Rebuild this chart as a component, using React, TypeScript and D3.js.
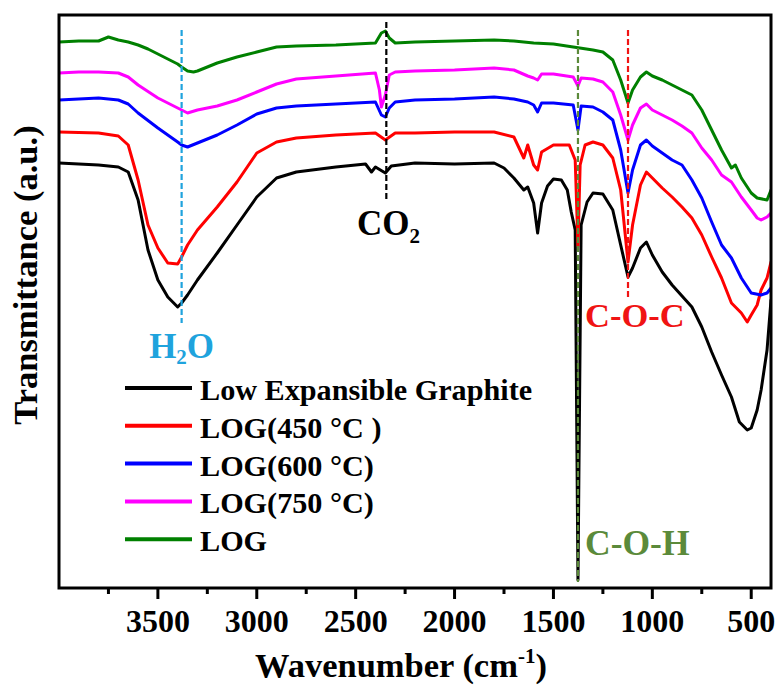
import React from "react";
import * as d3 from "d3";

// ---------- data (wavenumber cm-1, transmittance a.u.) ----------
const SERIES_NAMES = ["Low Expansible Graphite", "LOG(450 °C )", "LOG(600 °C)", "LOG(750 °C)", "LOG"];
const SERIES_COLORS = ["#000000", "#ff0000", "#0000ff", "#ff00ff", "#008000"];

const lowExpansible: [number, number][] = [
  [4000, 42.5], [3900, 42.4], [3800, 42.3], [3700, 42.1], [3650, 41.6], [3600, 38.8], [3550, 33.8],
  [3500, 30.8], [3450, 29.1], [3400, 28.1], [3380, 28.5], [3350, 29.3], [3300, 30.8], [3200, 33.5],
  [3100, 36.3], [3000, 39.1], [2900, 41.0], [2800, 41.6], [2600, 42.1], [2450, 42.4], [2420, 41.6],
  [2400, 42.1], [2350, 41.5], [2320, 42.2], [2200, 42.5], [2000, 42.4], [1800, 42.5], [1750, 42.0],
  [1700, 41.0], [1650, 39.8], [1630, 40.1], [1600, 38.5], [1580, 35.5], [1560, 38.5], [1530, 40.2],
  [1500, 40.9], [1460, 40.8], [1430, 39.8], [1410, 37.6], [1390, 35.8], [1376, 0.8], [1360, 36.3],
  [1330, 38.6], [1300, 39.5], [1250, 39.4], [1200, 37.8], [1160, 34.3], [1123, 31.1], [1100, 32.0],
  [1060, 34.0], [1030, 34.6], [1000, 33.3], [950, 31.6], [900, 30.3], [850, 29.2], [800, 28.1],
  [750, 26.1], [700, 23.6], [650, 21.3], [600, 19.1], [560, 16.6], [520, 15.8], [500, 16.0],
  [470, 17.8], [450, 19.8], [420, 23.8], [400, 28.8],
];

const log450: [number, number][] = [
  [4000, 45.6], [3800, 45.5], [3700, 45.2], [3650, 44.3], [3600, 40.8], [3550, 36.3], [3500, 34.0],
  [3450, 32.5], [3400, 32.4], [3380, 33.1], [3350, 34.3], [3300, 35.8], [3200, 38.1], [3100, 40.6],
  [3000, 43.5], [2900, 44.6], [2800, 45.0], [2600, 45.3], [2400, 45.5], [2350, 44.8], [2300, 45.5],
  [2200, 45.5], [2000, 45.6], [1800, 45.6], [1700, 45.1], [1650, 43.0], [1630, 44.3], [1600, 42.3],
  [1580, 41.8], [1560, 43.6], [1500, 44.3], [1420, 44.3], [1390, 42.8], [1376, 34.2], [1365, 42.3],
  [1340, 44.3], [1300, 44.6], [1250, 44.3], [1200, 43.0], [1160, 39.8], [1123, 32.6], [1100, 36.3],
  [1060, 40.3], [1030, 41.6], [1000, 41.0], [950, 40.0], [900, 39.1], [850, 38.1], [800, 37.0],
  [750, 35.3], [700, 33.1], [650, 31.0], [600, 28.5], [550, 27.5], [520, 26.6], [500, 27.3],
  [470, 28.3], [450, 29.8], [420, 31.0], [400, 32.6],
];

const log600: [number, number][] = [
  [4000, 48.8], [3900, 48.9], [3800, 49.0], [3700, 48.8], [3650, 48.4], [3600, 47.5], [3500, 46.0],
  [3400, 44.6], [3380, 44.3], [3350, 44.1], [3300, 44.5], [3200, 45.3], [3100, 46.3], [3000, 47.4],
  [2900, 48.0], [2800, 48.2], [2600, 48.4], [2400, 48.6], [2370, 47.3], [2350, 47.1], [2330, 48.0],
  [2300, 48.6], [2200, 48.8], [2000, 48.9], [1800, 49.1], [1700, 48.9], [1630, 48.6], [1600, 48.3],
  [1580, 47.6], [1560, 48.5], [1500, 48.5], [1400, 48.3], [1376, 45.8], [1360, 48.2], [1300, 48.1],
  [1250, 47.6], [1200, 46.8], [1160, 43.8], [1123, 39.5], [1100, 41.8], [1060, 44.3], [1030, 44.8],
  [1000, 44.2], [950, 43.5], [900, 42.8], [850, 42.3], [800, 40.8], [750, 39.0], [700, 36.6],
  [650, 34.3], [600, 33.0], [550, 31.0], [500, 29.5], [450, 29.3], [420, 29.5], [400, 30.0],
];

const log750: [number, number][] = [
  [4000, 51.5], [3900, 51.6], [3800, 51.6], [3700, 51.5], [3650, 51.1], [3600, 50.3], [3500, 49.0],
  [3400, 48.0], [3380, 47.8], [3350, 47.5], [3300, 47.8], [3200, 48.2], [3100, 48.8], [3000, 49.6],
  [2900, 50.4], [2800, 50.9], [2600, 51.2], [2400, 51.5], [2380, 49.8], [2370, 48.1], [2350, 49.3],
  [2330, 51.3], [2300, 51.6], [2200, 51.7], [2000, 51.8], [1800, 52.0], [1700, 51.8], [1630, 51.2],
  [1600, 51.0], [1580, 50.8], [1560, 51.4], [1500, 51.4], [1400, 51.1], [1376, 50.2], [1360, 51.0],
  [1300, 50.9], [1250, 50.6], [1200, 49.6], [1160, 47.3], [1123, 44.8], [1100, 46.3], [1060, 48.0],
  [1030, 48.4], [1000, 47.8], [950, 47.3], [900, 46.8], [850, 46.2], [800, 45.5], [750, 44.0],
  [700, 42.8], [650, 41.3], [600, 40.6], [550, 39.1], [500, 37.8], [470, 37.0], [450, 36.8],
  [420, 37.1], [400, 37.5],
];

const logSeries: [number, number][] = [
  [4000, 54.6], [3900, 54.7], [3800, 54.7], [3750, 55.1], [3700, 54.8], [3650, 54.6], [3600, 54.3],
  [3550, 53.9], [3500, 53.4], [3450, 52.9], [3400, 52.4], [3380, 52.1], [3350, 51.7], [3320, 51.6],
  [3300, 51.7], [3200, 52.5], [3100, 53.1], [3000, 53.6], [2900, 54.1], [2800, 54.2], [2600, 54.3],
  [2400, 54.5], [2370, 55.5], [2350, 55.7], [2330, 55.0], [2300, 54.5], [2200, 54.6], [2000, 54.7],
  [1800, 54.8], [1700, 54.7], [1600, 54.5], [1500, 54.4], [1400, 54.1], [1300, 53.8], [1250, 53.6],
  [1200, 52.8], [1160, 50.8], [1123, 48.5], [1100, 49.8], [1060, 51.1], [1030, 51.6], [1000, 51.2],
  [950, 50.8], [900, 50.3], [850, 49.8], [800, 49.3], [750, 47.8], [700, 45.8], [650, 43.8],
  [600, 42.0], [580, 42.3], [550, 41.0], [500, 39.5], [470, 39.0], [420, 38.8], [400, 39.8],
];

const ALL_SERIES = [lowExpansible, log450, log600, log750, logSeries];

const MAJOR_TICKS = [3500, 3000, 2500, 2000, 1500, 1000, 500];
const MINOR_TICKS = [3750, 3250, 2750, 2250, 1750, 1250, 750];

// peak marker dashed lines: wavenumber, top, bottom (a.u.)
const MARKER_WAVES = [3380, 2345, 1376, 1123];
const MARKER_TOPS = [55.8, 56.6, 55.8, 55.8];
const MARKER_BOTTOMS = [26.5, 38.8, 0.6, 29.1];
const MARKER_COLORS = ["#1fa3dd", "#000000", "#5b8a3a", "#f01414"];

const FONT = "'Liberation Serif', 'DejaVu Serif', 'Times New Roman', serif";

export default function App() {
  const W = 778, H = 686;
  const left = 59, right = 771, top = 15, bottom = 588;
  const x = d3.scaleLinear().domain([4000, 400]).range([left, right]);
  const y = d3.scaleLinear().domain([0, 57.3]).range([bottom, top]);
  const line = d3.line<[number, number]>().x(d => x(d[0])).y(d => y(d[1]));

  const legendX0 = 125, legendX1 = 192, legendY0 = 388, legendStep = 37.8;
  const txt: React.CSSProperties = { fontFamily: FONT, fontWeight: 700 };

  return (
    <svg width={W} height={H} style={{ position: "absolute", left: 0, top: 0, background: "#fff", fontFamily: FONT, fontWeight: 700 }}>
      <rect x={0} y={0} width={W} height={H} fill="#fff" />
      <defs>
        <clipPath id="plotclip">
          <rect x={left} y={top} width={right - left} height={bottom - top} />
        </clipPath>
      </defs>
      <g clipPath="url(#plotclip)">
        {ALL_SERIES.map((s, i) => (
          <path key={i} d={line(s) || ""} fill="none" stroke={SERIES_COLORS[i]} strokeWidth={3}
            strokeLinejoin="round" strokeLinecap="round" />
        ))}
        {MARKER_WAVES.map((w, i) => (
          <line key={i} x1={x(w)} x2={x(w)} y1={y(MARKER_TOPS[i])} y2={y(MARKER_BOTTOMS[i])}
            stroke={MARKER_COLORS[i]} strokeWidth={2.2} strokeDasharray="6 3" />
        ))}
      </g>

      {/* frame */}
      <rect x={left} y={top} width={right - left} height={bottom - top} fill="none" stroke="#000" strokeWidth={3} />
      {MAJOR_TICKS.map(t => (
        <g key={t}>
          <line x1={x(t)} x2={x(t)} y1={bottom} y2={bottom + 11} stroke="#000" strokeWidth={3} />
          <text x={x(t)} y={632} textAnchor="middle" fontSize={32} fill="#000" style={txt}>{t}</text>
        </g>
      ))}
      {MINOR_TICKS.map(t => (
        <line key={t} x1={x(t)} x2={x(t)} y1={bottom} y2={bottom + 6} stroke="#000" strokeWidth={3} />
      ))}

      {/* axis titles */}
      <text x={401} y={677} textAnchor="middle" fontSize={34.5} fill="#000" style={txt}>
        Wavenumber (cm<tspan fontSize={21} dy={-14}>-1</tspan><tspan dy={14}>)</tspan>
      </text>
      <text transform="translate(37,275) rotate(-90)" textAnchor="middle" fontSize={34.5} fill="#000" style={txt}>
        Transmittance (a.u.)
      </text>

      {/* annotations */}
      <text x={x(3380)} y={358} textAnchor="middle" fontSize={35} fill="#1fa3dd" style={txt}>
        H<tspan fontSize={21} dy={6}>2</tspan><tspan dy={-6}>O</tspan>
      </text>
      <text x={357} y={235} fontSize={35} fill="#000" style={txt}>
        CO<tspan fontSize={21} dy={8}>2</tspan>
      </text>
      <text x={585} y={327} fontSize={34.5} fill="#f01414" style={txt}>C-O-C</text>
      <text x={585} y={555} fontSize={35.5} fill="#5b8a3a" style={txt}>C-O-H</text>

      {/* legend */}
      {SERIES_NAMES.map((n, i) => (
        <g key={n}>
          <line x1={legendX0} x2={legendX1} y1={legendY0 + i * legendStep} y2={legendY0 + i * legendStep}
            stroke={SERIES_COLORS[i]} strokeWidth={4} />
          <text x={200} y={legendY0 + i * legendStep + 12} fontSize={30.2} fill="#000" style={txt}>{n}</text>
        </g>
      ))}
    </svg>
  );
}
